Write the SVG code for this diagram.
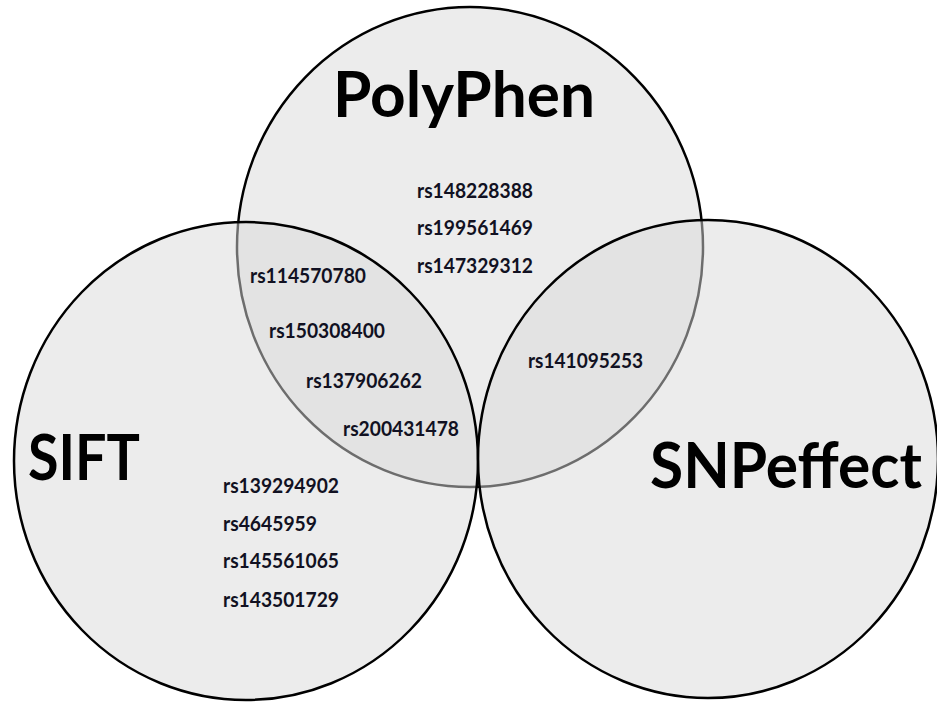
<svg xmlns="http://www.w3.org/2000/svg" width="937" height="702" viewBox="0 0 937 702">
<style>
.set{fill:#d9d9d9;fill-opacity:0.5;stroke:#000;stroke-width:2.5}
.title{font-family:Lato,"Open Sans","Liberation Sans",sans-serif;font-weight:bold;font-size:63px;fill:#000}
.snp{font-family:Lato,"Open Sans","Liberation Sans",sans-serif;font-weight:bold;font-size:20px;fill:#111122}
</style>
<rect width="937" height="702" fill="#fff"/>
<g id="polyphen">
<ellipse class="set" cx="470" cy="247" rx="233" ry="240"/>
</g>
<g id="sift">
<ellipse class="set" cx="246" cy="461" rx="232" ry="239"/>
</g>
<g id="snpeffect">
<ellipse class="set" cx="708" cy="459" rx="230" ry="239"/>
</g>
<g id="labels">
<text class="title" x="333" y="117" textLength="262" lengthAdjust="spacingAndGlyphs">PolyPhen</text>
<text class="title" x="28" y="480" textLength="112" lengthAdjust="spacingAndGlyphs">SIFT</text>
<text class="title" x="650" y="488" textLength="272" lengthAdjust="spacingAndGlyphs">SNPeffect</text>
</g>
<g id="snps">
<text class="snp" x="417" y="198" textLength="116" lengthAdjust="spacingAndGlyphs">rs148228388</text>
<text class="snp" x="417" y="235" textLength="116" lengthAdjust="spacingAndGlyphs">rs199561469</text>
<text class="snp" x="417" y="273" textLength="116" lengthAdjust="spacingAndGlyphs">rs147329312</text>
<text class="snp" x="250" y="283" textLength="116" lengthAdjust="spacingAndGlyphs">rs114570780</text>
<text class="snp" x="269" y="338" textLength="116" lengthAdjust="spacingAndGlyphs">rs150308400</text>
<text class="snp" x="306" y="388" textLength="116" lengthAdjust="spacingAndGlyphs">rs137906262</text>
<text class="snp" x="343" y="436" textLength="116" lengthAdjust="spacingAndGlyphs">rs200431478</text>
<text class="snp" x="528" y="368" textLength="115" lengthAdjust="spacingAndGlyphs">rs141095253</text>
<text class="snp" x="223" y="493" textLength="116" lengthAdjust="spacingAndGlyphs">rs139294902</text>
<text class="snp" x="223" y="531" textLength="94" lengthAdjust="spacingAndGlyphs">rs4645959</text>
<text class="snp" x="223" y="568" textLength="116" lengthAdjust="spacingAndGlyphs">rs145561065</text>
<text class="snp" x="223" y="607" textLength="116" lengthAdjust="spacingAndGlyphs">rs143501729</text>
</g>
</svg>
